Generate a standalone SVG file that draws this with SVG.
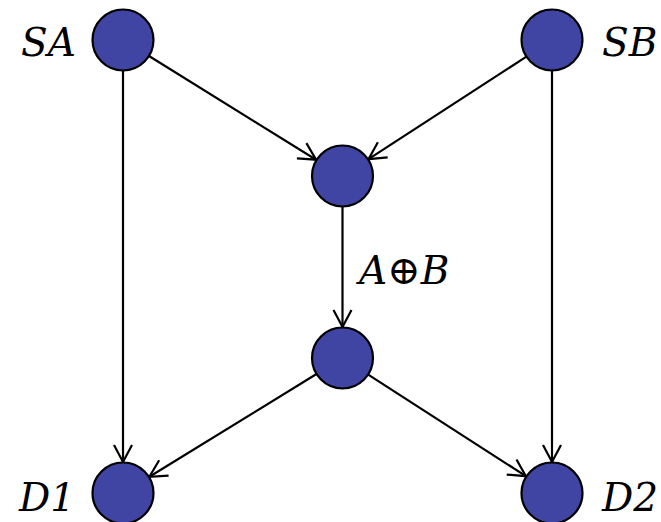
<svg xmlns="http://www.w3.org/2000/svg" width="661" height="522" viewBox="0 0 661 522">
<style>
.node{fill:#4044A3;stroke:#000;stroke-width:2.2}
.edge{stroke:#000;stroke-width:2.2;fill:none}
.lbl{font-family:"DejaVu Serif",serif;font-style:italic;font-size:39px;fill:#000}
.up{font-style:normal;font-size:40px}
</style>
<defs>
<marker id="arr" markerUnits="userSpaceOnUse" orient="auto" refX="0" refY="0" markerWidth="40" markerHeight="40" viewBox="-20 -20 40 40" overflow="visible">
<path d="M-17,-9 L0,0 L-17,9" fill="none" stroke="#000" stroke-width="2.2"/>
</marker>
</defs>
<g id="connectors">
<line class="edge" x1="149.4" y1="56.3" x2="316.1" y2="159.7" marker-end="url(#arr)"/>
<line class="edge" x1="526" y1="56.9" x2="368.5" y2="159.1" marker-end="url(#arr)"/>
<line class="edge" x1="342.5" y1="207" x2="342.5" y2="327" marker-end="url(#arr)"/>
<line class="edge" x1="316.1" y1="374.2" x2="149.4" y2="476.8" marker-end="url(#arr)"/>
<line class="edge" x1="368.6" y1="374.8" x2="525.9" y2="476.2" marker-end="url(#arr)"/>
<line class="edge" x1="123" y1="71" x2="123" y2="462" marker-end="url(#arr)"/>
<line class="edge" x1="552" y1="71" x2="552" y2="462" marker-end="url(#arr)"/>
<text class="lbl" x="359" y="284">A<tspan class="up">⊕</tspan>B</text>
</g>
<g id="SA"><circle class="node" cx="123" cy="40" r="30.5"/><text class="lbl" x="21" y="56">SA</text></g>
<g id="SB"><circle class="node" cx="552" cy="40" r="30.5"/><text class="lbl" x="602" y="56">SB</text></g>
<g id="M1"><circle class="node" cx="342.5" cy="176" r="30.5"/></g>
<g id="M2"><circle class="node" cx="342.5" cy="358" r="30.5"/></g>
<g id="D1"><circle class="node" cx="123" cy="493" r="30.5"/><text class="lbl" x="19" y="511">D1</text></g>
<g id="D2"><circle class="node" cx="552" cy="493" r="30.5"/><text class="lbl" x="602" y="511">D2</text></g>
</svg>
